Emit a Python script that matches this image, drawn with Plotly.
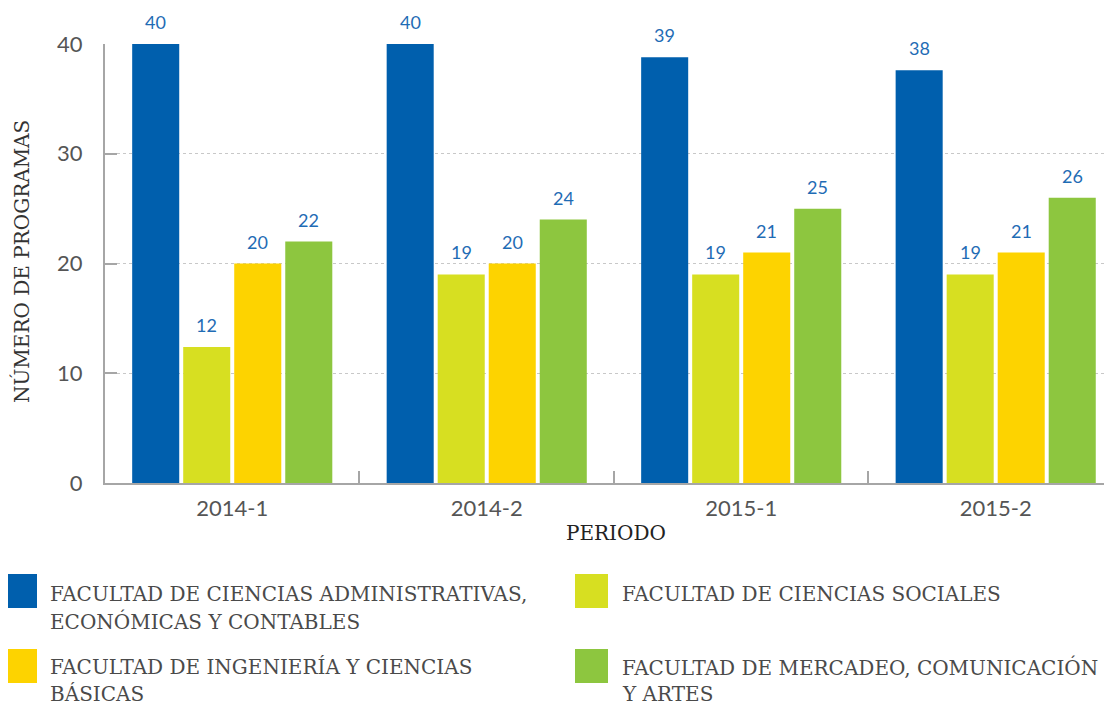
import plotly.graph_objects as go

periods = ["2014-1", "2014-2", "2015-1", "2015-2"]
series_names = [
    "FACULTAD DE CIENCIAS ADMINISTRATIVAS,<br>ECONÓMICAS Y CONTABLES",
    "FACULTAD DE CIENCIAS SOCIALES",
    "FACULTAD DE INGENIERÍA Y CIENCIAS<br>BÁSICAS",
    "FACULTAD DE MERCADEO, COMUNICACIÓN<br>Y ARTES",
]
admin = [40, 40, 38.8, 37.6]
sociales = [12.4, 19, 19, 19]
ingenieria = [20, 20, 21, 21]
mercadeo = [22, 24, 25, 26]
series_values = [admin, sociales, ingenieria, mercadeo]
colors = ["#005FAD", "#D7DF21", "#FDD300", "#8DC63F"]
y_title = "NÚMERO DE PROGRAMAS"
x_title = "PERIODO"

OFF = 8  # page body margin
W, H = 1112 - OFF, 706 - OFF
# plot area in screen pixels
SL, SR, ST, SB = 105, 1112, 44, 483
L, R, T, B = SL - OFF, SR - OFF, ST - OFF, SB - OFF
BAR_PITCH = 51  # px between neighbouring bars in a group


def px(x):
    return (x - SL) / (SR - SL)


def py(y):
    return (SB - y) / (SB - ST)


fig = go.Figure()
annotations = []
n = len(series_values)
for j, (name, vals, col) in enumerate(zip(series_names, series_values, colors)):
    fig.add_trace(go.Bar(
        x=periods, y=vals, name=name, marker=dict(color=col, line=dict(width=0)),
        showlegend=False, hoverinfo="skip",
    ))
    # value labels above each bar
    for p, v in zip(periods, vals):
        annotations.append(dict(
            x=p, y=v, xref="x", yref="y", text=f"{v:.0f}", showarrow=False,
            xanchor="center", yanchor="bottom", xshift=(j - (n - 1) / 2) * BAR_PITCH, yshift=9,
            font=dict(family="Lato", size=18, color="#1F6CB5"),
        ))

# legend drawn manually (2 columns)
legend_pos = [(4, 574, 51, 601), (575, 574, 623, 601), (4, 649, 51, 674), (575, 649, 623, 674)]
LINE = 27
shapes = []
for name, col, (sx, sy, tx, base) in zip(series_names, colors, legend_pos):
    shapes.append(dict(type="rect", xref="paper", yref="paper",
                       x0=px(sx), x1=px(sx + 33), y0=py(sy), y1=py(sy + 34),
                       fillcolor=col, line=dict(width=0)))
    for i, line in enumerate(name.split("<br>")):
        annotations.append(dict(text=line, xref="paper", yref="paper",
                                x=px(tx - 3), y=py(base + i * LINE - 7),
                                xanchor="left", yanchor="middle",
                                align="left", showarrow=False,
                                font=dict(family="DejaVu Serif", size=20, color="#4A4A4A")))

annotations.append(dict(text=x_title, xref="paper", yref="paper",
                        x=px(616), y=py(533), xanchor="center", yanchor="middle",
                        showarrow=False,
                        font=dict(family="DejaVu Serif", size=20, color="#222222")))
annotations.append(dict(text=y_title, xref="paper", yref="paper", textangle=-90,
                        x=px(22), y=py(262), xanchor="center", yanchor="middle",
                        showarrow=False,
                        font=dict(family="DejaVu Serif", size=20, color="#333333")))

fig.update_layout(
    width=W, height=H, autosize=False,
    margin=dict(l=L, r=W - R, t=T, b=H - B, pad=0, autoexpand=False),
    paper_bgcolor="white", plot_bgcolor="white",
    barmode="group", bargap=0.198, bargroupgap=0.078,
    shapes=shapes, annotations=annotations,
    xaxis=dict(
        type="category", automargin=False,
        range=[-0.5, 3.457], showgrid=False, showline=True, linecolor="#A6A6A6", linewidth=2,
        ticks="inside", tickson="boundaries", ticklen=12, tickcolor="#A6A6A6", tickwidth=2,
        tickfont=dict(family="Lato", size=22, color="#555555"), ticklabelstandoff=5,
        zeroline=False,
    ),
    yaxis=dict(
        automargin=False,
        range=[0, 40], tickvals=[0, 10, 20, 30, 40], showline=True, linecolor="#A6A6A6", linewidth=2,
        ticks="inside", ticklen=12, tickcolor="#A6A6A6", tickwidth=2,
        showgrid=True, gridcolor="#C8C8C8", griddash="dot", gridwidth=1, zeroline=False,
        tickfont=dict(family="Lato", size=22, color="#555555"), ticklabelstandoff=16,
    ),
)

fig.write_html("out.html")
